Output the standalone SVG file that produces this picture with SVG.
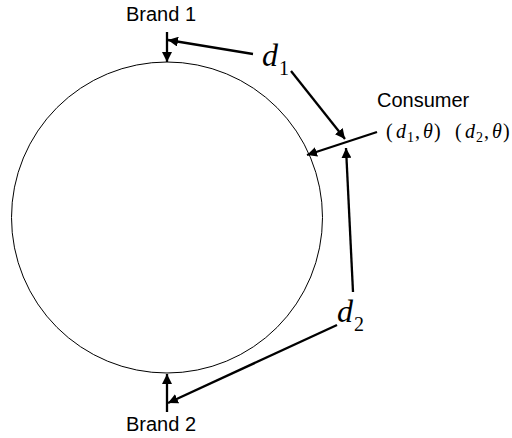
<svg xmlns="http://www.w3.org/2000/svg" width="512" height="438" viewBox="0 0 512 438">
<style>
.lbl{font-family:"Liberation Sans",Arial,sans-serif;font-size:20px;fill:#000}
.math{font-family:"Liberation Serif","Times New Roman",serif;fill:#000}
.it{font-style:italic}
.arr{stroke:#000;stroke-width:2.3;fill:none;marker-end:url(#ah)}
</style>
<defs>
<marker id="ah" markerUnits="userSpaceOnUse" markerWidth="12" markerHeight="10" refX="10" refY="5" orient="auto">
<path d="M0,0 L10,5 L0,10 Z" fill="#000"/>
</marker>
</defs>
<g id="market">
<circle cx="167" cy="217.5" r="155.5" fill="none" stroke="#000" stroke-width="1"/>
</g>
<g id="brand1"><text class="lbl" x="161" y="21" text-anchor="middle">Brand 1</text></g>
<g id="brand2"><text class="lbl" x="161" y="431" text-anchor="middle">Brand 2</text></g>
<g id="consumer"><text class="lbl" x="377" y="107">Consumer</text>
<text class="math" font-size="20" y="138"><tspan x="386">(</tspan><tspan class="it" x="396">d</tspan><tspan x="407" font-size="14" dy="4">1</tspan><tspan x="415" dy="-4">,</tspan><tspan class="it" x="423">θ</tspan><tspan x="434">)</tspan><tspan x="455">(</tspan><tspan class="it" x="465">d</tspan><tspan x="476" font-size="14" dy="4">2</tspan><tspan x="484" dy="-4">,</tspan><tspan class="it" x="492">θ</tspan><tspan x="503">)</tspan></text></g>
<g id="d1"><text class="math" y="66"><tspan class="it" x="262" font-size="32">d</tspan><tspan x="279" font-size="20" dy="9">1</tspan></text></g>
<g id="d2"><text class="math" y="322"><tspan class="it" x="337" font-size="32">d</tspan><tspan x="354" font-size="20" dy="9">2</tspan></text></g>
<g id="connectors">
<line class="arr" x1="167" y1="32" x2="167" y2="62"/>
<line class="arr" x1="253" y1="54" x2="168" y2="40"/>
<line class="arr" x1="291" y1="71" x2="345" y2="139"/>
<line class="arr" x1="377" y1="132" x2="307" y2="155"/>
<line class="arr" x1="353" y1="292" x2="346" y2="148"/>
<line class="arr" x1="337" y1="325" x2="168" y2="403"/>
<line class="arr" x1="167" y1="412" x2="167" y2="374"/>
</g>
</svg>
